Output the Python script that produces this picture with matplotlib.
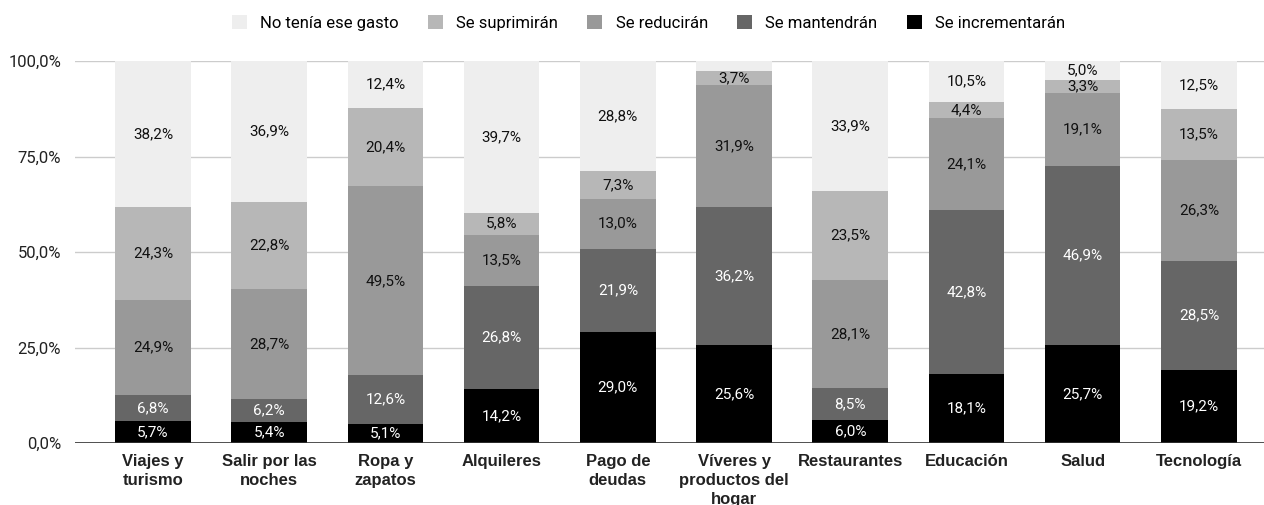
import numpy as np
import matplotlib.pyplot as plt

categories = ['Viajes y\nturismo', 'Salir por las\nnoches', 'Ropa y\nzapatos', 'Alquileres',
              'Pago de\ndeudas', 'Víveres y\nproductos del\nhogar', 'Restaurantes',
              'Educación', 'Salud', 'Tecnología']

incrementaran = [5.7, 5.4, 5.1, 14.2, 29.0, 25.6, 6.0, 18.1, 25.7, 19.2]
mantendran = [6.8, 6.2, 12.6, 26.8, 21.9, 36.2, 8.5, 42.8, 46.9, 28.5]
reduciran = [24.9, 28.7, 49.5, 13.5, 13.0, 31.9, 28.1, 24.1, 19.1, 26.3]
suprimiran = [24.3, 22.8, 20.4, 5.8, 7.3, 3.7, 23.5, 4.4, 3.3, 13.5]
no_tenia = [38.2, 36.9, 12.4, 39.7, 28.8, 2.6, 33.9, 10.5, 5.0, 12.5]

series = [
    ('Se incrementarán', incrementaran, '#000000', 'white'),
    ('Se mantendrán', mantendran, '#666666', 'white'),
    ('Se reducirán', reduciran, '#999999', '#111111'),
    ('Se suprimirán', suprimiran, '#b7b7b7', '#111111'),
    ('No tenía ese gasto', no_tenia, '#eeeeee', '#111111'),
]

plt.rcParams['font.family'] = ['Roboto', 'DejaVu Sans']

fig = plt.figure(figsize=(12.64, 5.05), dpi=100)
ax = fig.add_axes([0.0593, 0.1228, 0.9407, 0.7562])

x = np.arange(len(categories))
bottom = np.zeros(len(categories))
handles = {}
for name, vals, color, tcolor in series:
    vals = np.array(vals)
    bars = ax.bar(x, vals, 0.65, bottom=bottom, color=color, label=name, zorder=2)
    handles[name] = bars
    for xi, b, v in zip(x, bottom, vals):
        if v >= 3:
            ax.text(xi, b + v / 2, f'{v:.1f}%'.replace('.', ','), ha='center', va='center',
                    fontsize=11, color=tcolor, zorder=3)
    bottom += vals

ax.set_ylim(0, 100)
ax.set_xlim(-0.671, 9.56)
ax.set_yticks([0, 25, 50, 75, 100])
ax.set_yticklabels(['0,0%', '25,0%', '50,0%', '75,0%', '100,0%'], fontsize=12, color='#222222')
ax.yaxis.grid(True, color='#cccccc', linewidth=1, zorder=0)
ax.axhline(0, color='#333333', linewidth=1.2, zorder=3)
ax.set_xticks(x)
ax.set_xticklabels(categories, fontsize=12, fontweight='bold', color='#222222', linespacing=1.35,
                   family=['Liberation Sans', 'DejaVu Sans'])
ax.tick_params(axis='both', length=0)
ax.tick_params(axis='x', pad=8)
ax.tick_params(axis='y', pad=10)
for s in ax.spines.values():
    s.set_visible(False)

order = ['No tenía ese gasto', 'Se suprimirán', 'Se reducirán', 'Se mantendrán', 'Se incrementarán']
fig.legend([handles[n] for n in order], order, loc='center', bbox_to_anchor=(0.513, 0.955),
           ncol=5, frameon=False, fontsize=12, handlelength=0.9, handleheight=0.9,
           columnspacing=1.75, handletextpad=0.8)

fig.savefig('out.png', dpi=100)
